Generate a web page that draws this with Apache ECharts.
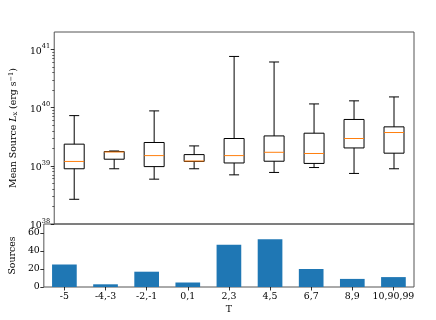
<!DOCTYPE html>
<html>
<head>
<meta charset="utf-8">
<script src="https://cdn.jsdelivr.net/npm/echarts@6/dist/echarts.min.js"></script>
<style>html,body{margin:0;padding:0;background:#fff;}#c{width:436px;height:320px;}</style>
</head>
<body>
<div id="c"></div>
<script>
var categories = ['-5', '-4,-3', '-2,-1', '0,1', '2,3', '4,5', '6,7', '8,9', '10,90,99'];
// box stats: [lower whisker, Q1, median, Q3, upper whisker]
var whiskerLow = [2.66e38, 8.9e38, 5.9e38, 8.9e38, 7.0e38, 7.7e38, 9.35e38, 7.4e38, 8.9e38];
var q1 = [8.9e38, 1.3e39, 9.7e38, 1.19e39, 1.12e39, 1.2e39, 1.1e39, 2.03e39, 1.65e39];
var medians = [1.19e39, 1.73e39, 1.5e39, 1.21e39, 1.5e39, 1.71e39, 1.63e39, 2.95e39, 3.74e39];
var q3 = [2.36e39, 1.76e39, 2.52e39, 1.56e39, 2.95e39, 3.27e39, 3.64e39, 6.27e39, 4.68e39];
var whiskerHigh = [7.3e39, 1.8e39, 8.8e39, 2.2e39, 7.6e40, 6.1e40, 1.16e40, 1.31e40, 1.53e40];
var sources = [25, 3, 17, 5, 47, 53, 20, 9, 11];
var majorTicks = [1e38, 1e39, 1e40, 1e41];
var countTicks = [0, 20, 40, 60];

var minorTicks = [];
for (var e = 38; e <= 41; e++) {
  for (var m = 2; m <= 9; m++) {
    var v = m * Math.pow(10, e);
    if (v < 2e41) minorTicks.push(v);
  }
}

var boxData = categories.map(function (c, i) {
  return [i, whiskerLow[i], q1[i], medians[i], q3[i], whiskerHigh[i]];
});

var FONT = 'DejaVu Serif';
var FS = 9.4;
var chart = echarts.init(document.getElementById('c'), null, {renderer: 'canvas'});

function expLabel(v) {
  var e = Math.round(Math.log10(v));
  return '{b|10}{s|' + e + '}';
}

var option = {
  animation: false,
  backgroundColor: '#fff',
  textStyle: {fontFamily: FONT, color: '#000'},
  grid: [
    {left: 43, right: 22, top: 32, height: 192, show: true, borderColor: '#555', borderWidth: 1, backgroundColor: 'transparent'},
    {left: 43, right: 22, top: 224, height: 63, show: true, borderColor: '#555', borderWidth: 1, backgroundColor: 'transparent'}
  ],
  xAxis: [
    {type: 'category', gridIndex: 0, data: categories, boundaryGap: true,
     axisLine: {show: false}, axisTick: {show: false}, axisLabel: {show: false}, splitLine: {show: false}},
    {type: 'category', gridIndex: 1, data: categories, boundaryGap: true,
     name: 'T', nameLocation: 'middle', nameGap: 18,
     nameTextStyle: {fontFamily: FONT, fontSize: FS, color: '#000'},
     axisLine: {show: false},
     axisTick: {show: true, alignWithLabel: true, length: 3.5, lineStyle: {color: '#000', width: 0.8}},
     axisLabel: {fontFamily: FONT, fontSize: FS, color: '#000', margin: 5, interval: 0},
     splitLine: {show: false}}
  ],
  yAxis: [
    {type: 'log', logBase: 10, gridIndex: 0, min: 1e38, max: 2e41,
     name: '{n|Mean Source }{i|L}{sub|x}{n| (erg s}{sup|−1}{n|)}',
     nameLocation: 'middle', nameGap: 33, nameRotate: 90,
     nameTextStyle: {fontFamily: FONT, fontSize: FS, color: '#000',
       rich: {
         n: {fontFamily: FONT, fontSize: FS, color: '#000'},
         i: {fontFamily: FONT, fontSize: FS, fontStyle: 'italic', color: '#000'},
         sub: {fontFamily: FONT, fontSize: 6.6, color: '#000', verticalAlign: 'bottom', padding: [4, 0, 0, 0]},
         sup: {fontFamily: FONT, fontSize: 6.6, color: '#000', verticalAlign: 'top', padding: [0, 0, 4, 0]}
       }},
     axisLine: {show: false},
     axisTick: {show: true, length: 3.5, customValues: majorTicks, lineStyle: {color: '#000', width: 0.8}},
     axisLabel: {fontFamily: FONT, fontSize: FS, color: '#000', margin: 4, customValues: majorTicks,
       formatter: expLabel,
       rich: {
         b: {fontFamily: FONT, fontSize: FS, color: '#000', padding: [4, 0, 0, 0]},
         s: {fontFamily: FONT, fontSize: 6.6, color: '#000', verticalAlign: 'top', padding: [0, 0, 4, 0]}
       }},
     splitLine: {show: false}},
    {type: 'log', logBase: 10, gridIndex: 0, min: 1e38, max: 2e41,
     axisLine: {show: false},
     axisTick: {show: true, length: 2, customValues: minorTicks, lineStyle: {color: '#000', width: 0.6}},
     axisLabel: {show: false}, splitLine: {show: false}, position: 'left'},
    {type: 'value', gridIndex: 1, min: 0, max: 70,
     name: 'Sources', nameLocation: 'middle', nameGap: 19, nameRotate: 90,
     nameTextStyle: {fontFamily: FONT, fontSize: FS, color: '#000'},
     axisLine: {show: false},
     axisTick: {show: true, length: 3.5, customValues: countTicks, lineStyle: {color: '#000', width: 0.8}},
     axisLabel: {fontFamily: FONT, fontSize: FS, color: '#000', margin: 4, customValues: countTicks},
     splitLine: {show: false}}
  ],
  series: [
    {type: 'custom', xAxisIndex: 0, yAxisIndex: 0, data: boxData,
     encode: {x: 0, y: [1, 2, 3, 4, 5]},
     clip: false,
     renderItem: function (params, api) {
       var i = api.value(0);
       var band = params.coordSys.width / categories.length;
       var bw = band * 0.5, cw = band * 0.25;
       var pLo = api.coord([i, api.value(1)]);
       var pQ1 = api.coord([i, api.value(2)]);
       var pMed = api.coord([i, api.value(3)]);
       var pQ3 = api.coord([i, api.value(4)]);
       var pHi = api.coord([i, api.value(5)]);
       var x = pLo[0];
       var st = {stroke: '#000', lineWidth: 1, fill: null};
       return {type: 'group', children: [
         {type: 'line', shape: {x1: x, y1: pQ1[1], x2: x, y2: pLo[1]}, style: st},
         {type: 'line', shape: {x1: x, y1: pQ3[1], x2: x, y2: pHi[1]}, style: st},
         {type: 'line', shape: {x1: x - cw / 2, y1: pLo[1], x2: x + cw / 2, y2: pLo[1]}, style: st},
         {type: 'line', shape: {x1: x - cw / 2, y1: pHi[1], x2: x + cw / 2, y2: pHi[1]}, style: st},
         {type: 'rect', shape: {x: x - bw / 2, y: pQ3[1], width: bw, height: pQ1[1] - pQ3[1]}, style: {stroke: '#000', lineWidth: 1, fill: 'transparent'}},
         {type: 'line', shape: {x1: x - bw / 2, y1: pMed[1], x2: x + bw / 2, y2: pMed[1]}, style: {stroke: '#ff7f0e', lineWidth: 1}}
       ]};
     }},
    {type: 'bar', xAxisIndex: 1, yAxisIndex: 2, data: sources, barWidth: '60%',
     itemStyle: {color: '#1f77b4'}}
  ]
};
chart.setOption(option);
</script>
</body>
</html>
